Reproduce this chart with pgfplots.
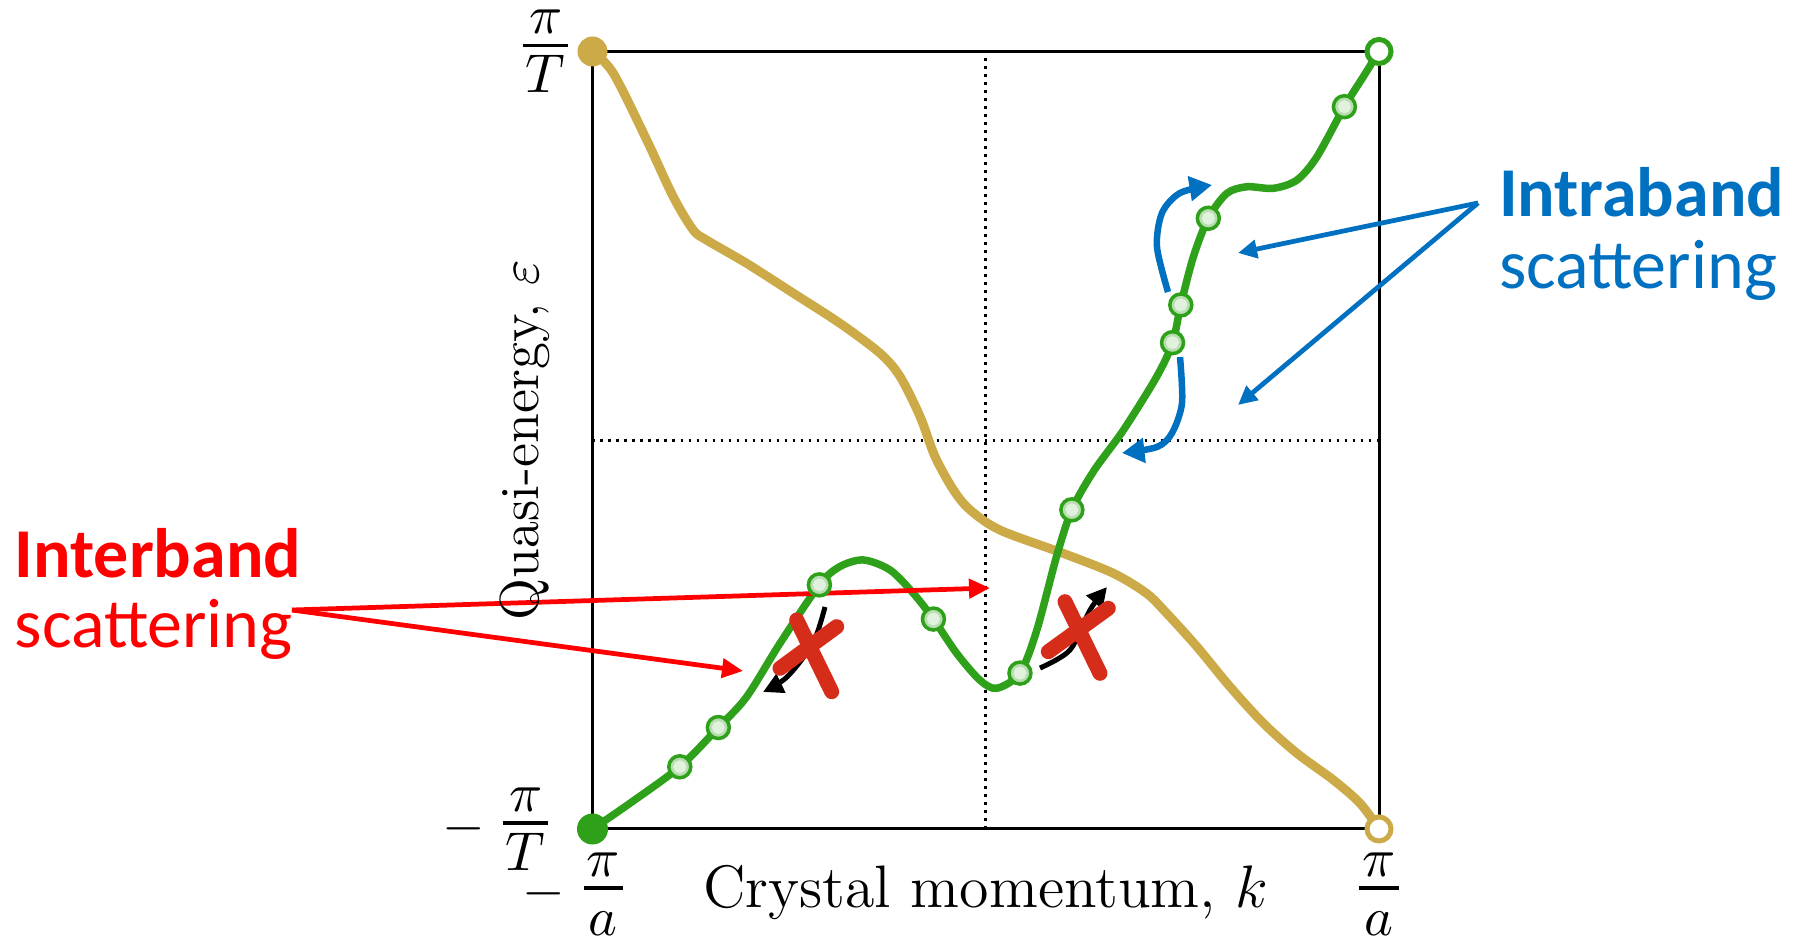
\documentclass[border=0pt]{standalone}
\usepackage{pgfplots}
\pgfplotsset{compat=1.18}
\usepackage{fontspec}
\newfontfamily\carlito{Carlito}
\usetikzlibrary{arrows.meta}
\definecolor{gcol}{RGB}{46,160,26}
\definecolor{goldc}{RGB}{204,170,72}
\definecolor{ibl}{RGB}{0,112,192}
\definecolor{xred}{RGB}{214,44,26}
\newcommand\mfrac[2]{\mathord{\vcenter{\offinterlineskip\halign{\hfil\kern0.6pt##\kern0.6pt\hfil\cr$#1$\cr\noalign{\kern2pt\hrule height0.7pt\kern1.7pt}$\vphantom{T}#2$\cr}}}}
\begin{document}
\begin{tikzpicture}
\begin{axis}[
  scale only axis, width=157.3pt, height=155.5pt,
  xmin=-1, xmax=1, ymin=-1, ymax=1,
  clip=false,
  axis line style={line width=0.55pt},
  major tick length=0pt,
  xtick={-1,1}, ytick={-1,1},
  tick label style={font=\fontsize{10.5}{12.5}\selectfont, inner sep=0pt},
  xticklabels={{\hspace*{-7.8pt}$-\mkern6mu\mfrac{\pi}{a}$},{$\mfrac{\pi}{a}$}},
  yticklabels={{$-\mkern6mu\mfrac{\pi}{T}$\hspace*{4pt}},{\raisebox{-0.7pt}{$\mfrac{\pi}{T}$}}},
  xticklabel style={anchor=center, yshift=-13pt},
  yticklabel style={anchor=east, xshift=-4.6pt},
  xlabel={Crystal momentum, $k$},
  ylabel={Quasi-energy, $\varepsilon$},
  xlabel style={at={(axis description cs:0.5,-0.1016)}, anchor=base, inner sep=0pt, font=\fontsize{12}{14}\selectfont},
  ylabel style={at={(axis description cs:-0.0858,0.5)}, anchor=center, inner sep=0pt, font=\fontsize{11}{13}\selectfont},
]
% invisible frame for the picture size
\path (-2.5067,1.1325) rectangle (2.0527,-1.2830);
\draw[black, line width=0.6pt] (-1,-1) rectangle (1,1);
% dotted guides
\draw[black, line width=0.55pt, dash pattern=on 0.5pt off 1.1pt] (0,-1) -- (0,1);
\draw[black, line width=0.55pt, dash pattern=on 0.5pt off 1.1pt] (-1,0) -- (1,0);

% gold band
\addplot[goldc, line width=1.8pt, smooth, no marks] coordinates {
(-1,1) (-0.947,0.944) (-0.862,0.772) (-0.795,0.627) (-0.744,0.541) (-0.710,0.515)
(-0.608,0.455) (-0.489,0.378) (-0.371,0.301) (-0.269,0.224) (-0.218,0.164)
(-0.167,0.061) (-0.129,-0.042) (-0.082,-0.128) (-0.040,-0.179) (0.036,-0.231)
(0.197,-0.291) (0.324,-0.342) (0.409,-0.394) (0.460,-0.445) (0.537,-0.531)
(0.621,-0.634) (0.706,-0.728) (0.791,-0.805) (0.884,-0.874) (0.952,-0.934) (1,-1)};

% green band
\addplot[gcol, line width=1.5pt, smooth, no marks] coordinates {
(-1,-1) (-0.905,-0.934) (-0.778,-0.840) (-0.680,-0.739) (-0.608,-0.660) (-0.523,-0.522)
(-0.423,-0.372) (-0.371,-0.325) (-0.311,-0.308) (-0.243,-0.334) (-0.184,-0.394)
(-0.133,-0.460) (-0.074,-0.548) (-0.015,-0.617) (0.028,-0.638) (0.087,-0.599)
(0.130,-0.488) (0.180,-0.299) (0.219,-0.179) (0.274,-0.080) (0.350,0.026)
(0.435,0.164) (0.475,0.251) (0.496,0.348) (0.528,0.472) (0.566,0.571)
(0.613,0.635) (0.664,0.652) (0.731,0.648) (0.791,0.669) (0.842,0.729)
(0.912,0.858) (0.960,0.935) (1,1)};

% states on the green band
\addplot[only marks, mark=*, mark size=2.2pt, mark options={draw=gcol, fill=gcol!35!white, line width=0.7pt}] coordinates {
(-0.778,-0.840) (-0.680,-0.739) (-0.423,-0.372) (-0.133,-0.460) (0.087,-0.599)
(0.219,-0.179) (0.475,0.251) (0.496,0.348) (0.566,0.571) (0.912,0.858)};
\addplot[only marks, color=white!85!gcol, mark=*, mark size=1.1pt] coordinates {
(-0.778,-0.840) (-0.680,-0.739) (-0.423,-0.372) (-0.133,-0.460) (0.087,-0.599)
(0.219,-0.179) (0.475,0.251) (0.496,0.348) (0.566,0.571) (0.912,0.858)};

% end points
\addplot[only marks, mark=*, mark size=2.8pt, mark options={draw=goldc, fill=goldc}] coordinates {(-1,1)};
\addplot[only marks, mark=*, mark size=2.9pt, mark options={draw=gcol, fill=gcol}] coordinates {(-1,-1)};
\addplot[only marks, mark=*, mark size=2.4pt, mark options={draw=gcol, fill=white, line width=1pt}] coordinates {(1,1)};
\addplot[only marks, mark=*, mark size=2.4pt, mark options={draw=goldc, fill=white, line width=1pt}] coordinates {(1,-1)};

% black arrows and red crosses
\draw[black, line width=1pt, -{Triangle[length=4pt,width=4pt]}] plot[smooth] coordinates {(-0.4088,-0.4289) (-0.4393,-0.5216) (-0.5054,-0.6090) (-0.5664,-0.6476)};
\draw[black, line width=1pt, -{Triangle[length=4pt,width=4pt]}] plot[smooth] coordinates {(0.1380,-0.5859) (0.2143,-0.5395) (0.2651,-0.4367) (0.3084,-0.3775)};
\draw[xred, line width=3pt, line cap=round] (-0.4807,-0.4624) -- (-0.3917,-0.6468) (-0.3790,-0.4796) -- (-0.5232,-0.5866);
\draw[xred, line width=3pt, line cap=round] (0.2015,-0.4153) -- (0.2905,-0.5995) (0.3116,-0.4323) -- (0.1591,-0.5439);

% blue curved arrows
\draw[ibl, line width=1.3pt, -{Triangle[length=4.5pt,width=4.8pt]}] plot[smooth] coordinates {(0.4635,0.3813) (0.4355,0.4971) (0.4482,0.5846) (0.4940,0.6360) (0.5753,0.6566)};
\draw[ibl, line width=1.3pt, -{Triangle[length=4.5pt,width=4.8pt]}] plot[smooth] coordinates {(0.4940,0.2141) (0.4991,0.0958) (0.4737,0.0186) (0.4355,-0.0174) (0.3465,-0.0328)};

% pointers
\draw[red, line width=0.95pt, -{Triangle[length=4.2pt,width=3.8pt]}] (-1.7642,-0.4367) -- (0.0108,-0.3801);
\draw[red, line width=0.95pt, -{Triangle[length=4.2pt,width=3.8pt]}] (-1.7642,-0.4367) -- (-0.6173,-0.5936);
\draw[ibl, line width=0.95pt, -{Triangle[length=3.8pt,width=3.6pt]}] (1.2518,0.6103) -- (0.6415,0.4817);
\draw[ibl, line width=0.95pt, -{Triangle[length=3.8pt,width=3.6pt]}] (1.2518,0.6103) -- (0.6415,0.0907);

% texts
\node[anchor=base west, inner sep=0, text=red, font=\carlito\fontsize{14}{16}\selectfont\bfseries] at (-2.4718,-0.3518) {Interband};
\node[anchor=base west, inner sep=0, text=red, font=\carlito\fontsize{14}{16}\selectfont] at (-2.4718,-0.5344) {scattering};
\node[anchor=base west, inner sep=0, text=ibl, font=\carlito\fontsize{14}{16}\selectfont\bfseries] at (1.3026,0.5743) {Intraband};
\node[anchor=base west, inner sep=0, text=ibl, font=\carlito\fontsize{14}{16}\selectfont] at (1.3026,0.3891) {scattering};
\end{axis}
\end{tikzpicture}
\end{document}
